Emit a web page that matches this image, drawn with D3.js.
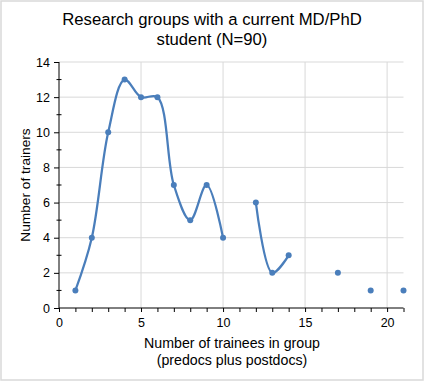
<!DOCTYPE html>
<html><head><meta charset="utf-8">
<script src="https://cdn.jsdelivr.net/npm/d3@7"></script>
<style>body{margin:0;background:#fff}svg{display:block}text{font-family:"Liberation Sans",Arial,sans-serif;fill:#000}</style>
</head><body>
<svg id="c" width="425" height="382"></svg>
<script>
const trainees = [1,2,3,4,5,6,7,8,9,10,11,12,13,14,15,16,17,18,19,20,21];
const trainers = [1,4,10,13,12,12,7,5,7,4,null,6,2,3,null,null,2,null,1,null,1];
const xTicks = [0,5,10,15,20];
const yTicks = [0,2,4,6,8,10,12,14];
const titleLines = ["Research groups with a current MD/PhD","student (N=90)"];
const xLabelLines = ["Number of trainees in group","(predocs plus postdocs)"];
const yLabel = "Number of trainers";

const svg = d3.select("#c");
svg.append("rect").attr("x",1).attr("y",1).attr("width",422).attr("height",379)
  .attr("fill","#fff").attr("stroke","#d9d9d9").attr("stroke-width",1.5);

const L=59,R=403.5,T=62,B=308;
const x=d3.scaleLinear().domain([0,21]).range([L,R]);
const y=d3.scaleLinear().domain([0,14]).range([B,T]);
const FF='"Liberation Sans",Arial,sans-serif';

// gridlines
svg.append("g").selectAll("line").data(yTicks.filter(d=>d>0)).join("line")
  .attr("x1",L).attr("x2",R).attr("y1",d=>y(d)).attr("y2",d=>y(d))
  .attr("stroke","#d9d9d9").attr("stroke-width",1);
svg.append("g").selectAll("line").data(xTicks.filter(d=>d>0)).join("line")
  .attr("y1",T).attr("y2",B).attr("x1",d=>x(d)).attr("x2",d=>x(d))
  .attr("stroke","#d9d9d9").attr("stroke-width",1);

// axes
const xAxis=svg.append("g").attr("transform",`translate(0,${B})`)
  .call(d3.axisBottom(x).tickValues(d3.range(0,22)).tickSize(4).tickFormat(""));
xAxis.select(".domain").attr("d",`M${L},0H${R}`).attr("stroke","#000");
xAxis.selectAll(".tick line").attr("stroke","#000");
svg.append("g").attr("transform",`translate(0,${B})`)
  .call(d3.axisBottom(x).tickValues(xTicks).tickSize(0).tickPadding(10).tickFormat(d3.format("d")))
  .call(g=>g.select(".domain").remove())
  .selectAll("text").attr("font-size",12.5).style("font-family",FF);

const yAxis=svg.append("g").attr("transform",`translate(${L},0)`)
  .call(d3.axisLeft(y).tickValues(yTicks).tickSize(5).tickPadding(4).tickFormat(d3.format("d")));
yAxis.select(".domain").attr("d",`M0,${T}V${B}`).attr("stroke","#000");
yAxis.selectAll(".tick line").attr("stroke","#000");
yAxis.selectAll("text").attr("font-size",12.5).style("font-family",FF);
svg.append("g").selectAll("line").data(d3.range(1,14,2)).join("line")
  .attr("x1",L-2.5).attr("x2",L+2.5).attr("y1",d=>y(d)).attr("y2",d=>y(d))
  .attr("stroke","#000");

// line
const pts = trainees.map((t,i)=>({x:t,y:trainers[i]}));
const line=d3.line().defined(d=>d.y!==null).x(d=>x(d.x)).y(d=>y(d.y))
  .curve(d3.curveCatmullRom.alpha(0.5));
svg.append("path").datum(pts).attr("d",line).attr("fill","none")
  .attr("stroke","#4a7ebb").attr("stroke-width",2.25).attr("stroke-linejoin","round");
svg.append("g").selectAll("circle").data(pts.filter(d=>d.y!==null)).join("circle")
  .attr("cx",d=>x(d.x)).attr("cy",d=>y(d.y)).attr("r",3).attr("fill","#4a7ebb");

// titles
svg.append("g").selectAll("text").data(titleLines).join("text")
  .attr("x",212).attr("y",(d,i)=>25+i*20).attr("text-anchor","middle").attr("font-size",16.7).text(d=>d);
svg.append("g").selectAll("text").data(xLabelLines).join("text")
  .attr("x",232).attr("y",(d,i)=>348+i*17).attr("text-anchor","middle").attr("font-size",14.2).text(d=>d);
svg.append("text").attr("transform",`translate(30,${(T+B)/2}) rotate(-90)`)
  .attr("text-anchor","middle").attr("font-size",13.7).text(yLabel);
</script>
</body></html>
